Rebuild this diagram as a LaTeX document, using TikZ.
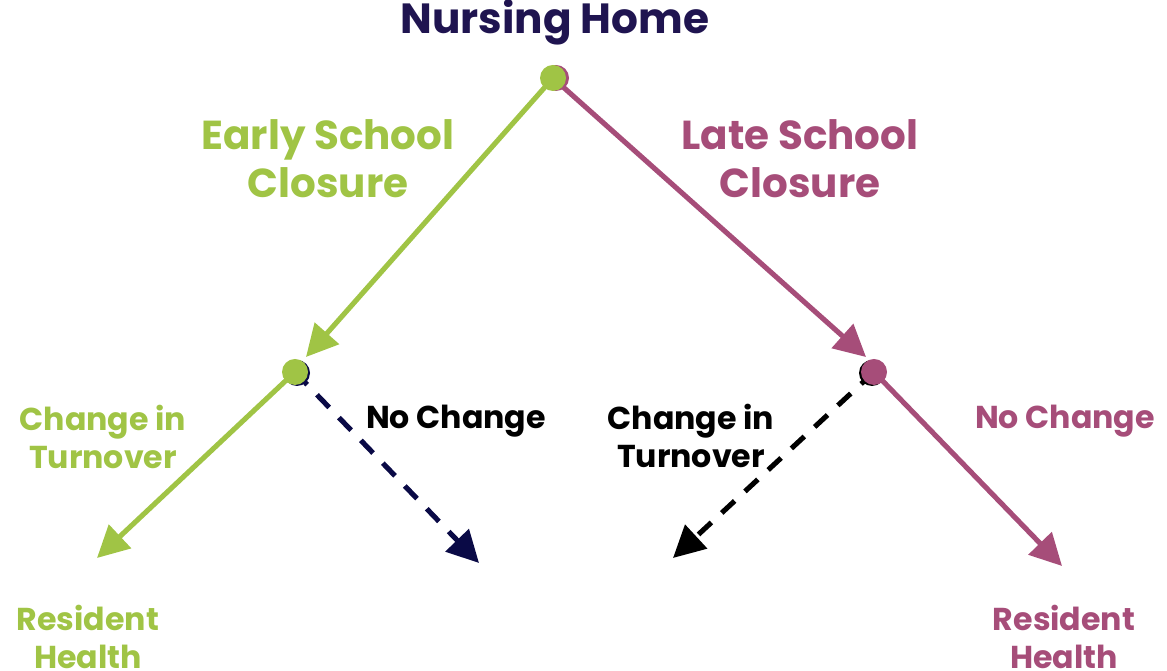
\documentclass[tikz,border=0pt]{standalone}
\usepackage{fontspec}
\setmainfont{Poppins}
\usetikzlibrary{arrows.meta}

\definecolor{leaf}{HTML}{A0C445}
\definecolor{plum}{HTML}{A64D79}
\definecolor{ink}{HTML}{1F1450}
\definecolor{navy}{HTML}{0A0A46}

\tikzset{
  branch/.style={line width=1.45pt, -{Triangle[length=9pt,width=9pt]}},
  dashbranch/.style={branch, dash pattern=on 5pt off 4pt},
  lbl/.style={font=\bfseries\fontsize{9}{10.8}\selectfont, align=center, inner sep=0pt},
  biglbl/.style={font=\bfseries\fontsize{11.5}{13.6}\selectfont, align=center, inner sep=0pt},
}

\begin{document}
\begin{tikzpicture}[x=0.01cm, y=-0.01cm]
                \useasboundingbox (0,0) rectangle (1167,671);

                % points of the tree
                \coordinate (top)   at (553,78);
                \coordinate (early) at (295,372);
                \coordinate (late)  at (874,372);
                \coordinate (earlyTip) at (306,357);
                \coordinate (lateTip)  at (866,357);
                \coordinate (ecTip) at (97,558);
                \coordinate (enTip) at (479,563);
                \coordinate (lcTip) at (673,558);
                \coordinate (lnTip) at (1062,566);

                \draw[branch, leaf] (top) -- (earlyTip);
                \draw[branch, plum] (top) -- (lateTip);
                \draw[branch, leaf] (early) -- (ecTip);
                \draw[dashbranch, navy] (early) -- (enTip);
                \draw[branch, plum] (late) -- (lnTip);
                \draw[dashbranch, black] (late) -- (lcTip);

                % dots, with a shadow one behind
                \fill[plum]  (556,78)  circle (13);
                \fill[leaf]  (top)     circle (13);
                \fill[navy]  (297,373) circle (13);
                \fill[leaf]  (early)   circle (13);
                \fill[black] (872,373) circle (13);
                \fill[plum]  (late)    circle (13);

                \node[biglbl, text=ink, font=\bfseries\fontsize{12}{14}\selectfont] (home) at (555,22) {Nursing Home};

                \node[biglbl, text=leaf] (earlyLbl) at (328,159) {Early School\\Closure};
                \node[biglbl, text=plum] (lateLbl)  at (800,159) {Late School\\Closure};

                \node[lbl, text=leaf]  (ecLbl) at (103,437) {Change in\\Turnover};
                \node[lbl, text=black] (enLbl) at (456,421) {No Change};
                \node[lbl, text=black] (lcLbl) at (691,436) {Change in\\Turnover};
                \node[lbl, text=plum]  (lnLbl) at (1065,421) {No Change};

                \node[lbl, text=leaf] (healthL) at (88,637)  {Resident\\Health};
                \node[lbl, text=plum] (healthR) at (1064,637) {Resident\\Health};
\end{tikzpicture}
\end{document}
